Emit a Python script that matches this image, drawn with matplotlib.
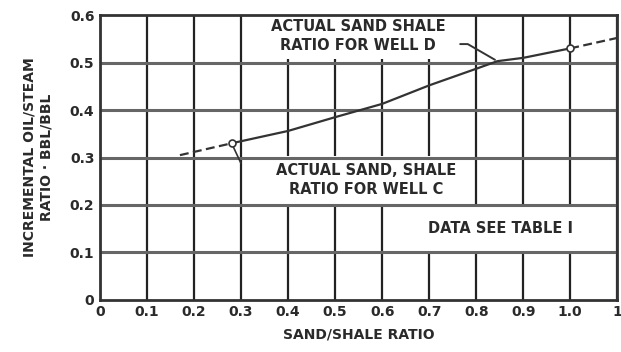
import matplotlib
matplotlib.use("Agg")
import matplotlib.pyplot as plt

# curve
sand_shale = [0.17, 0.28, 0.40, 0.50, 0.60, 0.70, 0.80, 0.845, 0.90, 1.00, 1.10]
oil_steam = [0.305, 0.33, 0.356, 0.385, 0.413, 0.452, 0.487, 0.503, 0.51, 0.53, 0.552]

x_ticks = [0, 0.1, 0.2, 0.3, 0.4, 0.5, 0.6, 0.7, 0.8, 0.9, 1.0, 1.1]
x_labels = ["0", "0.1", "0.2", "0.3", "0.4", "0.5", "0.6", "0.7", "0.8", "0.9", "1.0", "1"]
y_ticks = [0, 0.1, 0.2, 0.3, 0.4, 0.5, 0.6]
y_labels = ["0", "0.1", "0.2", "0.3", "0.4", "0.5", "0.6"]

well_c = (0.28, 0.33)
well_d = (0.845, 0.503)

plt.rcParams['font.family'] = ['DejaVu Sans']
plt.rcParams['font.weight'] = 'bold'

fig = plt.figure(figsize=(6.21, 3.52), dpi=100)
ax = fig.add_axes([0.161, 0.148, 0.833, 0.809])
ax.set_xlim(0, 1.1)
ax.set_ylim(0, 0.6)
ax.set_xticks(x_ticks)
ax.set_xticklabels(x_labels)
ax.set_yticks(y_ticks)
ax.set_yticklabels(y_labels)
ax.tick_params(length=0, labelsize=10, colors='#2a2a2a', pad=4)

# vertical lines sit under the text boxes, horizontal ones over them
ax.set_axisbelow(True)
ax.grid(True, axis='x', color='#222222', lw=1.6)
for yv in y_ticks[1:-1]:
    ax.axhline(yv, color='#666666', lw=2.2, zorder=3.5)
for s in ax.spines.values():
    s.set_linewidth(2.0)
    s.set_color('#333333')
    s.set_zorder(6)

# dashed ends, solid middle
ax.plot(sand_shale[:2], oil_steam[:2], color='#333333', lw=1.6, ls=(0, (4, 2)), zorder=4)
ax.plot(sand_shale[1:10], oil_steam[1:10], color='#333333', lw=1.6, zorder=4)
ax.plot(sand_shale[9:], oil_steam[9:], color='#333333', lw=1.6, ls=(0, (4, 2)), zorder=4)
ax.plot([sand_shale[1], sand_shale[9]], [oil_steam[1], oil_steam[9]], 'o', ms=5,
        mfc='white', mec='#333333', mew=1.2, zorder=5)

tkw = dict(fontsize=10.5, color='#2a2a2a', ha='center', va='center', zorder=3,
           linespacing=1.35)
ax.text(0.549, 0.556, "ACTUAL SAND SHALE\nRATIO FOR WELL D",
        bbox=dict(fc='white', ec='none', pad=4), **tkw)
ax.text(0.566, 0.252, "ACTUAL SAND, SHALE\nRATIO FOR WELL C",
        bbox=dict(fc='white', ec='none', pad=5), **tkw)
ax.text(0.851, 0.15, "DATA SEE TABLE I",
        bbox=dict(fc='white', ec='none', pad=12), **tkw)

ax.annotate("", xy=well_d, xytext=(0.76, 0.539),
            arrowprops=dict(arrowstyle='-', color='#333333', lw=1.4,
                            connectionstyle='angle,angleA=0,angleB=150,rad=0'), zorder=4)
ax.annotate("", xy=well_c, xytext=(0.302, 0.283),
            arrowprops=dict(arrowstyle='-', color='#333333', lw=1.2), zorder=4)

ax.set_xlabel("SAND/SHALE RATIO", fontsize=10, fontweight='bold', color='#2a2a2a', labelpad=6)
ax.set_ylabel("INCREMENTAL OIL/STEAM\nRATIO · BBL/BBL", fontsize=10, fontweight='bold',
              color='#2a2a2a', labelpad=12, linespacing=1.2)

fig.savefig("out.png", dpi=100, facecolor='white')
